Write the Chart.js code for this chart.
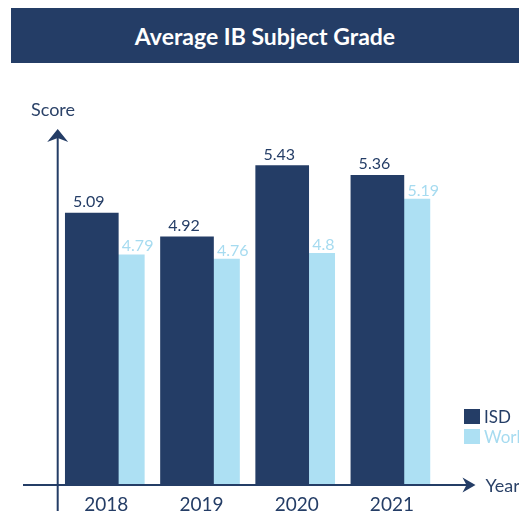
<!DOCTYPE html>
<html>
<head>
<meta charset="utf-8">
<script src="https://cdn.jsdelivr.net/npm/chart.js@4.4.1/dist/chart.umd.min.js"></script>
<style>
  html, body { margin: 0; padding: 0; background: #fff; overflow: hidden; }
  #wrap { position: relative; width: 519px; height: 511px; }
  #banner {
    position: absolute; left: 11px; top: 8px; width: 508px; height: 55px;
    background: #243d66; color: #fff; font: bold 23px Lato, sans-serif;
    display: flex; align-items: center; justify-content: center;
  }
  canvas { position: absolute; left: 0; top: 0; }
</style>
</head>
<body>
<div id="wrap">
  <canvas id="grafico" width="519" height="511"></canvas>
  <div id="banner">Average IB Subject Grade</div>
</div>
<script>
const years = ["2018", "2019", "2020", "2021"];
const isd = [5.09, 4.92, 5.43, 5.36];
const world = [4.79, 4.76, 4.8, 5.19];

const navy = "#243d66";
const celeste = "#ade0f3";
const fuente = "Lato, sans-serif";

// ejes con flechas, etiquetas de valores, leyenda
const decor = {
  id: "decor",
  afterDatasetsDraw(chart) {
    const ctx = chart.ctx;
    ctx.save();
    ctx.font = "16px " + fuente;
    ctx.textAlign = "left";
    ctx.textBaseline = "alphabetic";
    chart.data.datasets.forEach((ds, di) => {
      const meta = chart.getDatasetMeta(di);
      const dx = di === 0 ? 7.7 : 3.5;
      const gap = di === 0 ? 6 : 3.5;
      ctx.fillStyle = di === 0 ? navy : "#a6dbf0";
      meta.data.forEach((bar, i) => {
        const left = bar.x - bar.width / 2;
        ctx.fillText(String(ds.data[i]), left + dx, bar.y - gap);
      });
    });
    ctx.restore();
  },
  afterDraw(chart) {
    const ctx = chart.ctx;
    const a = chart.chartArea;
    const ax = a.left - 13;
    const ay = a.bottom;
    ctx.save();
    ctx.strokeStyle = navy;
    ctx.fillStyle = navy;
    ctx.lineWidth = 2;

    // eje Y
    ctx.beginPath();
    ctx.moveTo(ax, chart.height);
    ctx.lineTo(ax, a.top + 6);
    ctx.stroke();
    ctx.beginPath();
    ctx.moveTo(ax, a.top - 1);
    ctx.lineTo(ax + 10.5, a.top + 12);
    ctx.lineTo(ax, a.top + 8);
    ctx.lineTo(ax - 10.5, a.top + 12);
    ctx.closePath();
    ctx.fill();

    // eje X
    const xt = a.right + 24;
    ctx.beginPath();
    ctx.moveTo(23, ay);
    ctx.lineTo(xt - 6, ay);
    ctx.stroke();
    ctx.beginPath();
    ctx.moveTo(xt, ay);
    ctx.lineTo(xt - 13, ay - 7.5);
    ctx.lineTo(xt - 9, ay);
    ctx.lineTo(xt - 13, ay + 7.5);
    ctx.closePath();
    ctx.fill();

    // titulos de ejes
    ctx.font = "18px " + fuente;
    ctx.fillStyle = "#2b4268";
    ctx.textAlign = "left";
    ctx.textBaseline = "alphabetic";
    ctx.fillText("Score", 31, 116);
    ctx.fillText("Year", xt + 10, ay + 7);

    // leyenda
    ctx.font = "17px " + fuente;
    chart.data.datasets.forEach((ds, di) => {
      const y = 409 + di * 20;
      ctx.fillStyle = ds.backgroundColor;
      ctx.fillRect(a.right + 12.5, y, 16, 15);
      ctx.fillStyle = di === 0 ? navy : "#a6dbf0";
      ctx.fillText(ds.label, a.right + 32.5, y + 14);
    });
    ctx.restore();
  }
};

const recorte = { left: 10, top: 0, right: 0, bottom: 0 };

const ctx = document.getElementById("grafico").getContext("2d");
new Chart(ctx, {
  type: "bar",
  data: {
    labels: years,
    datasets: [
      { label: "ISD", data: isd, backgroundColor: navy, barThickness: 53, clip: recorte },
      { label: "World", data: world, backgroundColor: celeste, barThickness: 26, clip: recorte }
    ]
  },
  options: {
    responsive: false,
    animation: false,
    layout: { padding: { left: 70.7, right: 67.5, top: 130, bottom: 0 } },
    plugins: {
      legend: { display: false },
      tooltip: { enabled: false }
    },
    scales: {
      x: {
        offset: true,
        grid: { display: false, drawTicks: false },
        border: { display: false },
        ticks: { color: navy, font: { family: "Lato", size: 19 }, padding: 8, labelOffset: -12 },
        afterFit(scale) { scale.height = 26; }
      },
      y: { display: false, min: 3.14, max: 5.685 }
    }
  },
  plugins: [decor]
});
</script>
</body>
</html>
